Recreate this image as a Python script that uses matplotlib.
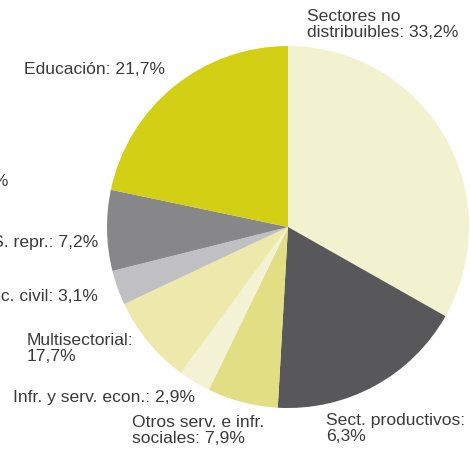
import matplotlib
matplotlib.use("Agg")
import matplotlib.pyplot as plt

# Slices, clockwise from 12 o'clock
values = [33.2, 17.7, 6.3, 2.9, 7.9, 3.1, 7.2, 21.7]
colors = ["#f3f2d0", "#58585a", "#e2de84", "#f3f2d4", "#ede9aa",
          "#c0c0c2", "#87878a", "#d3cf14"]

# Labels as printed on the chart
labels = [
    "Sectores no\ndistribuibles: 33,2%",
    "Educación: 21,7%",
    "Salud: 0%",
    "Pobl. y S. repr.: 7,2%",
    "Gob. y soc. civil: 3,1%",
    "Multisectorial:\n17,7%",
    "Infr. y serv. econ.: 2,9%",
    "Otros serv. e infr.\nsociales: 7,9%",
    "Sect. productivos:\n6,3%",
]
# (x_px, y_px, ha, va) placement of each label
label_pos = [
    (307, 9, "left", "top"),
    (24, 70, "left", "center"),
    (8, 181, "right", "center"),
    (98, 243, "right", "center"),
    (98, 296, "right", "center"),
    (27, 333, "left", "top"),
    (13, 398, "left", "center"),
    (132, 415, "left", "top"),
    (326, 413, "left", "top"),
]

W, H = 470, 452
fig = plt.figure(figsize=(W / 100, H / 100), dpi=100)
ax = fig.add_axes([0, 0, 1, 1])
ax.set_xlim(0, W)
ax.set_ylim(0, H)
ax.set_aspect("equal")
ax.axis("off")

ax.pie(values, colors=colors, startangle=90, counterclock=False,
       center=(288, H - 228), radius=181,
       wedgeprops=dict(linewidth=0))
ax.set_xlim(0, W)
ax.set_ylim(0, H)

for txt, (x, y, ha, va) in zip(labels, label_pos):
    ax.text(x, H - y, txt, ha=ha, va=va, fontsize=12.6,
            family="Liberation Sans", color="#3a3a3a", linespacing=1.12)

fig.savefig("out.png", dpi=100)
